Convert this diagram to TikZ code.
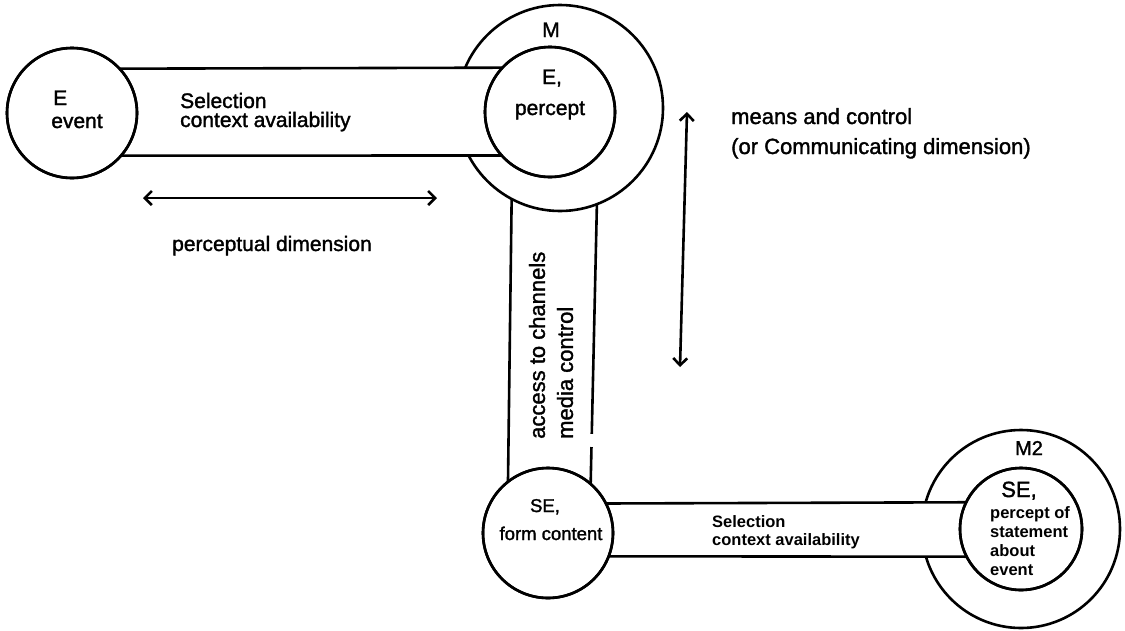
\documentclass[tikz,border=0pt]{standalone}
\usepackage{fontspec}
\setmainfont[BoldFont={Liberation Sans},BoldFeatures={FakeBold=1.5}]{Liberation Sans}
\newfontfamily\heavy{Liberation Sans Bold}
\usetikzlibrary{arrows.meta,calc}
\begin{document}
\begin{tikzpicture}[x=1pt,y=-1pt,
  ring/.style={circle,draw,line width=2.6pt,inner sep=0pt,outer sep=0pt},
  disc/.style={ring,fill=white},
  bandline/.style={line width=2.6pt},
  dimarrow/.style={line width=2.6pt,{Straight Barb[length=7pt,width=14pt,line width=2.6pt]}-{Straight Barb[length=7pt,width=14pt,line width=2.6pt]}},
  big/.style={inner sep=0pt,font=\fontsize{21}{19}\selectfont\bfseries},
  bigger/.style={inner sep=0pt,font=\fontsize{22}{22}\selectfont\bfseries},
  mid/.style={inner sep=0pt,font=\fontsize{18.5}{20}\selectfont\bfseries},
  smallb/.style={inner sep=0pt,font=\fontsize{16.5}{18}\heavy}]
\useasboundingbox[fill=white] (0,0) rectangle (1125,630);

% outer rings
\node[ring,minimum size=206pt] (Mout) at (560,108) {};
\node[ring,minimum size=198pt] (M2out) at (1021,529) {};

% white band areas hiding the outer rings
\fill[white] (73,68) rectangle (550,156);
\fill[white] (548,503) rectangle (1021,557);

% circles
\node[disc,minimum size=130pt] (E) at (72,113) {};
\node[disc,minimum size=130pt] (Min) at (550,112) {};
\node[disc,minimum size=130pt] (SE) at (548,533) {};
\node[disc,minimum size=122pt] (M2in) at (1021,529) {};

% top band
\draw[bandline] (E.43.8) -- (Min.137.4);
\draw[bandline] (E.-41.4) -- (Min.222.6);
% vertical band
\draw[bandline] (Mout.242.9) -- (SE.128);
\coordinate (vr1) at ($(Mout.291.6)!0.821!(SE.49.7)$);
\coordinate (vr2) at ($(Mout.291.6)!0.868!(SE.49.7)$);
\draw[bandline] (Mout.291.6) -- (vr1);
\draw[bandline] (vr2) -- (SE.49.7);
% bottom band
\draw[bandline] (SE.27.5) -- (M2in.154.8);
\draw[bandline] (SE.-21.7) -- (M2in.207.3);

% redraw circles on top
\node[ring,minimum size=130pt] at (E) {};
\node[ring,minimum size=130pt] at (Min) {};
\node[ring,minimum size=130pt] at (SE) {};
\node[ring,minimum size=122pt] at (M2in) {};

% arrows
\coordinate (h1) at (143,198);
\coordinate (h2) at (437,198);
\draw[dimarrow] (h1) -- (h2);
\coordinate (v1) at (687,112);
\coordinate (v2) at (680,367);
\draw[dimarrow] (v1) -- (v2);

% texts
\node[big,anchor=base west] (tE) at (53,105) {E};
\node[big,anchor=base] (tev) at (77,128) {event};
\node[big,anchor=base west,align=left] (tsel) at (180,127) {Selection\\context availability};
\node[big,anchor=base] (tM) at (551,37) {M};
\node[big,anchor=base] (tE2) at (552,84) {E,};
\node[big,anchor=base] (tper) at (550,115) {percept};
\node[bigger,anchor=base west] (tmc) at (731,124) {means and control};
\node[bigger,anchor=base west] (tcd) at (731,154) {(or Communicating dimension)};
\node[big,anchor=base] (tpd) at (272,251) {perceptual dimension};
\node[bigger,anchor=west,rotate=90,align=left,font=\fontsize{22}{28}\selectfont\bfseries] (tacc) at (551,439) {access to channels\\media control};
\node[mid,anchor=base] (tSE) at (545,512) {SE,};
\node[mid,anchor=base] (tfc) at (551,540) {form content};
\node[smallb,anchor=base west,align=left] (tsel2) at (712,545) {Selection\\context availability};
\node[big,anchor=base,font=\fontsize{20}{20}\selectfont\bfseries] (tM2) at (1029,455) {M2};
\node[big,anchor=base,font=\fontsize{22}{22}\selectfont\bfseries] (tSE2) at (1019,497) {SE,};
\node[smallb,anchor=base west,align=left,font=\fontsize{16.5}{19}\heavy] (tpo) at (990,575) {percept of\\statement\\about\\event};
\end{tikzpicture}
\end{document}
